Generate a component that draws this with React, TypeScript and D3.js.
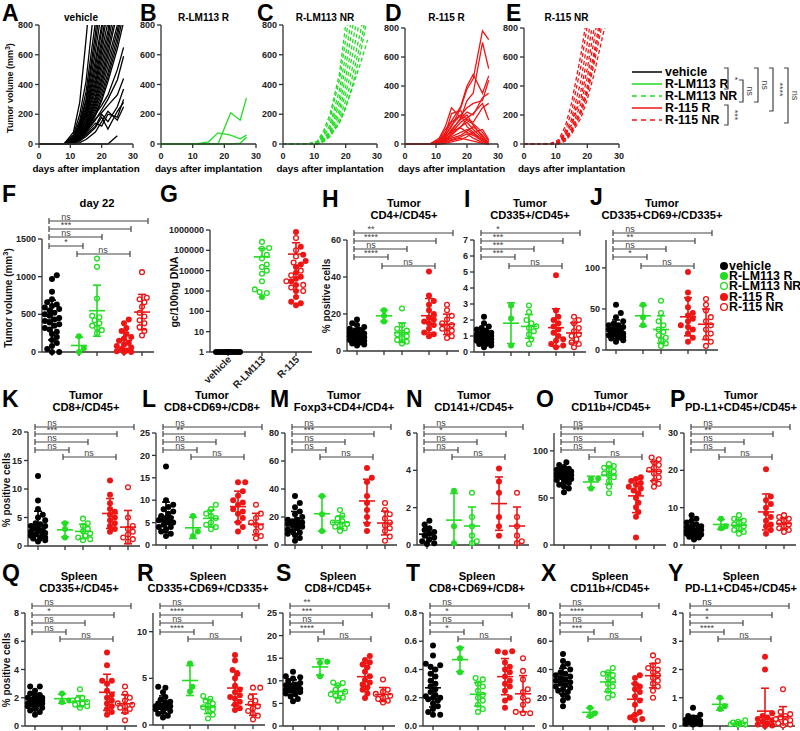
import React from "react";
import * as d3 from "d3";

const FONT = "'Liberation Sans', Arial, Helvetica, sans-serif";
const BLACK = "#000000";
const GREEN = "#22dd22";
const RED = "#ee1515";
const AXIS = "#333333";
const BRK = "#444444";

// ---------------- line chart data (tumor volume, mm3) ----------------
const days = [0, 8, 11, 13, 15, 18, 20, 22, 25, 27];
const vehicleCurves = [
  [0, 0, 80, 280, 700, 1400, 1900, 2400, 3000, 3500],
  [0, 0, 60, 200, 420, 1000, 1500, 2000, 2800, 3300],
  [0, 0, 50, 160, 350, 820, 1300, 1800, 2500, 3000],
  [0, 0, 40, 140, 300, 740, 1150, 1600, 2300, 2800],
  [0, 0, 45, 130, 280, 680, 1000, 1500, 2100, 2600],
  [0, 0, 35, 120, 250, 620, 900, 1300, 1900, 2400],
  [0, 0, 30, 110, 230, 560, 800, 1200, 1800, 2300],
  [0, 0, 40, 100, 210, 520, 760, 1100, 1700, 2200],
  [0, 0, 25, 90, 200, 480, 700, 950, 1500, 2000],
  [0, 0, 30, 95, 190, 440, 660, 900, 1400, 1900],
  [0, 0, 20, 80, 170, 410, 620, 820, 1300, 1800],
  [0, 0, 25, 70, 160, 380, 580, 760, 1200, 1600],
  [0, 0, 15, 60, 140, 350, 540, 720, 1100, 1500],
  [0, 0, 20, 70, 130, 320, 500, 680, 1000, 1400],
  [0, 0, 10, 50, 120, 300, 460, 640, 920, 1300],
  [0, 0, 15, 55, 110, 280, 430, 600, 880, 1200],
  [0, 0, 10, 40, 100, 260, 400, 560, 800, 1100],
  [0, 0, 20, 60, 100, 240, 370, 520, 760, 1000],
  [0, 0, 10, 45, 90, 220, 340, 480, 720, 950],
  [0, 0, 15, 50, 95, 200, 310, 450, 680, 880],
  [0, 0, 5, 35, 80, 190, 290, 420, 640, 820],
  [0, 0, 20, 60, 110, 200, 260, 330, 500, 650],
  [0, 0, 10, 40, 80, 160, 230, 300, 430, 590],
  [0, 0, 15, 45, 90, 170, 210, 260, 330, 440],
  [0, 0, 5, 25, 60, 120, 200, 150, 250, 370],
  [0, 0, 10, 30, 70, 140, 120, 200, 180, 300],
  [0, 0, 5, 20, 50, 110, 180, 100, 220, 280],
  [0, 0, 0, 10, 30, 80, 150, 220, 160, 250],
  [0, 0, 0, 0, 0, 0, 0, 0, 55],
];
const daysB = [0, 11, 15, 18, 22, 25, 27];
const lm113RCurves = [
  [0, 0, 15, 75, 60, 35, 60],
  [0, 0, 0, 0, 210, 160, 310],
  [0, 0, 0, 0, 0, 5, 45],
];
const lm113NRCurves = [
  [0, 0, 20, 90, 200, 470, 800, 1150, 1700, 2100],
  [0, 0, 15, 70, 170, 430, 700, 1000, 1500, 1900],
  [0, 0, 10, 50, 130, 360, 600, 860, 1300, 1700],
  [0, 0, 10, 60, 110, 310, 520, 760, 1150, 1500],
  [0, 0, 5, 40, 90, 270, 450, 660, 1000, 1350],
  [0, 0, 10, 30, 80, 230, 390, 580, 880, 1200],
  [0, 0, 5, 30, 70, 200, 340, 500, 780, 1050],
  [0, 0, 0, 20, 60, 170, 290, 440, 700, 920],
  [0, 0, 5, 25, 55, 150, 250, 370, 560, 700],
  [0, 0, 0, 15, 50, 140, 240, 380, 640, 860],
];
const r115RCurves = [
  [0, 0, 20, 60, 120, 250, 380, 450, 780, 720],
  [0, 0, 10, 40, 90, 180, 300, 350, 700, 520],
  [0, 0, 30, 100, 160, 260, 400, 480, 350, 470],
  [0, 0, 15, 60, 130, 200, 250, 280, 300, 440],
  [0, 0, 40, 120, 250, 180, 220, 200, 320, 350],
  [0, 0, 10, 50, 80, 150, 180, 210, 280, 165],
  [0, 0, 5, 30, 60, 120, 170, 150, 250, 280],
  [0, 0, 20, 80, 150, 200, 120, 80, 30, 0],
  [0, 0, 10, 40, 100, 170, 200, 130, 50, 10],
  [0, 0, 5, 30, 70, 120, 150, 100, 40, 0],
  [0, 0, 15, 50, 90, 110, 80, 60, 20, 0],
  [0, 0, 10, 25, 50, 80, 100, 70, 30, 5],
  [0, 0, 5, 20, 40, 60, 90, 120, 60, 0],
  [0, 0, 0, 10, 30, 50, 70, 40, 10, 0],
  [0, 0, 5, 15, 25, 40, 30, 20, 5, 0],
  [0, 0, 0, 5, 15, 30, 50, 80, 100, 30],
  [0, 0, 20, 70, 210, 230, 160, 140, 80, 20],
];
const r115NRCurves = [
  [0, 0, 30, 120, 280, 620, 900, 1300, 1900, 2400],
  [0, 0, 20, 90, 220, 540, 820, 1150, 1800, 2200],
  [0, 0, 15, 70, 170, 440, 700, 1000, 1600, 2000],
  [0, 0, 10, 60, 140, 370, 600, 880, 1400, 1800],
  [0, 0, 20, 70, 130, 320, 520, 780, 1250, 1600],
  [0, 0, 5, 50, 110, 280, 460, 700, 1100, 1400],
  [0, 0, 10, 40, 90, 240, 400, 620, 980, 1300],
  [0, 0, 5, 30, 80, 210, 350, 540, 860, 1100],
  [0, 0, 0, 20, 70, 180, 310, 470, 760, 920],
  [0, 0, 10, 35, 90, 230, 370, 580, 920, 1250],
];
const lineLegend = ["vehicle", "R-LM113 R", "R-LM113 NR", "R-115 R", "R-115 NR"];
const lineLegendSig = ["*", "ns", "ns", "****", "***", "ns"];

// ---------------- dot plot data ----------------
const groupNames = ["vehicle", "R-LM113 R", "R-LM113 NR", "R-115 R", "R-115 NR"];

const dataF = [
  [1020, 970, 800, 700, 660, 630, 610, 590, 570, 550, 520, 500, 480, 450, 430, 410, 390, 370, 350, 320, 300, 270, 240, 200, 160, 120, 80, 40, 0, 0],
  [0, 50, 210],
  [1240, 1130, 710, 480, 460, 420, 380, 350, 320, 290, 250],
  [430, 380, 320, 280, 240, 200, 180, 150, 120, 100, 80, 60, 40, 20, 0, 0, 10],
  [1060, 720, 700, 660, 600, 520, 470, 420, 380, 330, 280, 220],
];
const sigF = ["ns", "***", "ns", "*", "ns"];

const gVehicle = [1, 1, 1, 1, 1, 1, 1, 1, 1, 1, 1, 1, 1, 1, 1, 1, 1, 1, 1, 1, 1, 1, 1, 1, 1, 1, 1, 1];
const gLM113Open = [260000, 130000, 120000, 60000, 40000, 20000, 15000, 10000, 7000, 3000, 1200, 900, 800];
const gLM113Filled = [500];
const g115Filled = [800000, 150000, 60000, 30000, 20000, 15000, 8000, 5000, 4000, 3000, 2000, 1000, 500, 300, 250, 200];
const g115Open = [400000, 100000, 50000, 25000, 10000, 6000, 3000, 2000, 1500, 1000];
const gCategories = ["vehicle", "R-LM113", "R-115"];
const gTicks = [1, 10, 100, 1000, 10000, 100000, 1000000];

const dataH = [
  [17, 15, 14, 13, 12, 11.5, 11, 10.5, 10, 9.5, 9, 8.5, 8, 7.5, 7, 6.5, 6, 5.5, 5, 4.5, 4, 3.5, 3, 8, 9, 10, 7, 6],
  [22, 19, 16],
  [23, 14, 12, 11, 10, 9, 8, 7, 6, 5, 4],
  [43, 30, 27, 25, 22, 20, 18, 17, 16, 15, 14, 12, 10, 9, 8],
  [25, 22, 19, 17, 15, 14, 13, 12, 11, 10, 8, 7],
];
const sigH = ["**", "****", "ns", "****", "ns"];
const dataI = [
  [2.2, 1.8, 1.6, 1.5, 1.4, 1.3, 1.2, 1.1, 1.0, 1.0, 0.9, 0.9, 0.8, 0.8, 0.7, 0.7, 0.6, 0.5, 0.5, 0.4, 0.3, 1.1, 1.2, 0.6],
  [2.9, 2.1, 0.4],
  [2.9, 2.5, 2.0, 1.8, 1.6, 1.5, 1.3, 1.1, 0.8, 0.5],
  [4.8, 2.6, 2.2, 2.0, 1.8, 1.6, 1.4, 1.2, 1.0, 0.8, 0.7, 0.5, 0.4, 0.3],
  [2.2, 2.0, 1.8, 1.5, 1.3, 1.1, 1.0, 0.8, 0.6, 0.5, 0.3],
];
const sigI = ["*", "***", "***", "***", "ns"];
const dataJ = [
  [55, 45, 40, 35, 32, 30, 28, 26, 25, 24, 22, 20, 19, 18, 16, 15, 14, 12, 10, 20, 25, 30],
  [55, 40, 30],
  [60, 45, 35, 30, 25, 22, 18, 15, 12, 8, 5],
  [95, 70, 62, 52, 45, 42, 38, 35, 30, 28, 25, 20, 15, 10],
  [62, 55, 48, 40, 35, 30, 25, 20, 15, 10, 5],
];
const sigJ = ["ns", "**", "ns", "*", "ns"];

const dataK = [
  [12.3, 8, 6.5, 5.5, 5, 4.5, 4, 3.8, 3.5, 3.2, 3, 2.8, 2.5, 2.3, 2, 1.8, 1.5, 1.3, 1, 0.8, 3.5, 2.5, 2, 1.5],
  [4, 3, 1.5],
  [4.8, 4, 3.5, 3, 2.6, 2.2, 1.8, 1.5, 1.2, 1],
  [11.5, 9, 7.5, 6.5, 6, 5.5, 5, 4.5, 4, 3.5, 3, 2.5],
  [10.3, 5, 3.5, 3, 2.5, 2, 1.5, 1.2, 0.8],
];
const sigK = ["ns", "***", "ns", "ns", "ns"];
const dataL = [
  [17.5, 10, 9, 8.5, 8, 7.5, 7, 6.5, 6, 5.5, 5, 4.5, 4, 3.5, 3, 2.5, 2, 6, 5, 4, 5.5],
  [6.5, 3, 2],
  [9, 8, 7, 6.5, 6, 5, 4.5, 4, 3.5],
  [14, 14, 12, 11, 10, 9.5, 9, 8, 7.5, 7, 6, 5, 4, 3],
  [9, 7, 6, 5, 4.5, 4, 3, 2, 1.5],
];
const sigL = ["ns", "**", "ns", "ns", "ns"];
const dataM = [
  [35, 30, 27, 24, 22, 20, 18, 17, 16, 15, 14, 13, 12, 11, 10, 9, 8, 7, 5, 3, 15, 18],
  [35, 22, 10],
  [25, 21, 19, 17, 16, 15, 14, 13, 12, 10],
  [55, 48, 45, 35, 30, 25, 20, 15, 10],
  [30, 25, 22, 19, 16, 14, 12, 10, 6, 3],
];
const sigM = ["ns", "***", "ns", "ns", "ns"];
const dataN = [
  [1.3, 1.1, 0.9, 0.8, 0.7, 0.6, 0.5, 0.4, 0.3, 0.2, 0.1, 0.05],
  [2.9, 1.0, 0.1],
  [2.8, 1.5, 1.0, 0.5, 0.2, 0.1],
  [4.1, 3.4, 2.8, 1.5, 1.0, 0.5],
  [2.8, 1.5, 1.0, 0.5, 0.2, 0.1],
];
const sigN = ["ns", "*", "ns", "ns", "ns"];
const dataO = [
  [88, 85, 83, 81, 80, 79, 78, 77, 76, 75, 74, 73, 72, 71, 70, 69, 68, 66, 64, 62, 60, 56, 78, 80, 75],
  [71, 70, 60],
  [86, 84, 82, 80, 78, 76, 74, 72, 68, 62, 55],
  [72, 70, 68, 66, 64, 62, 60, 58, 55, 50, 45, 40, 35, 30, 8],
  [93, 91, 88, 85, 82, 80, 78, 76, 72, 68, 65, 62],
];
const sigO = ["ns", "***", "ns", "ns", "ns"];
const dataP = [
  [8, 7, 6.5, 6, 5.5, 5, 4.8, 4.5, 4.2, 4, 3.8, 3.5, 3.2, 3, 2.8, 2.5, 2.2, 2, 1.5, 4, 3.5, 5],
  [7, 5, 4.5],
  [8, 7, 6.5, 6, 5.5, 5, 4.5, 4, 3.5, 3],
  [20.3, 13, 12, 11, 10, 8.5, 7.5, 6.5, 5.5, 5, 4, 3],
  [8, 7.5, 7, 6.5, 6, 5.5, 5, 4.5, 4, 3.5],
];
const sigP = ["ns", "**", "ns", "ns", "ns"];

const dataQ = [
  [2.8, 2.8, 2.5, 2.3, 2.2, 2.1, 2, 1.9, 1.8, 1.8, 1.7, 1.6, 1.6, 1.5, 1.4, 1.3, 1.2, 1.1, 1, 0.8, 1.9, 1.7, 2, 1.5],
  [2.3, 1.8, 1.7],
  [2.6, 2.0, 1.9, 1.8, 1.7, 1.6, 1.5, 1.4, 1.3],
  [5.2, 4.3, 3.2, 3.2, 3.0, 2.5, 2.2, 2.0, 1.8, 1.6, 1.4, 1.2, 1.0, 0.8],
  [2.8, 2.3, 2.0, 1.8, 1.6, 1.5, 1.4, 1.3, 1.2, 1.0, 0.4],
];
const sigQ = ["ns", "*", "ns", "ns", "ns"];
const dataR = [
  [4.1, 4.0, 3.5, 3.0, 2.7, 2.5, 2.3, 2.2, 2.1, 2.0, 1.9, 1.8, 1.7, 1.5, 1.4, 1.2, 1.0, 0.8, 2.4, 2.0],
  [6.6, 4.1, 3.6],
  [3.1, 2.8, 2.6, 2.3, 2.1, 1.9, 1.7, 1.5, 1.1, 0.7],
  [7.5, 6.9, 5.9, 5.5, 5.0, 4.2, 3.8, 3.5, 3.2, 3.0, 2.8, 2.5, 2.2, 1.8, 1.6],
  [4.0, 4.0, 3.0, 2.6, 2.3, 2.0, 1.8, 1.5, 1.2, 1.0, 0.6],
];
const sigR = ["ns", "****", "ns", "****", "ns"];
const dataS = [
  [12, 11, 10.8, 10.5, 10, 9.5, 9.2, 9, 8.7, 8.5, 8.2, 8, 7.8, 7.5, 7.2, 7, 6.5, 6, 5.5, 8, 9, 8.5],
  [14.2, 14.0, 11.0],
  [9.6, 9.5, 9.0, 8.0, 7.6, 7.2, 7.0, 6.7, 6.3, 5.6],
  [15.5, 14.6, 14.1, 13.6, 13.0, 12.0, 11.0, 10.2, 9.6, 9.2, 8.6, 8.0, 7.2, 6.2],
  [10.3, 8.0, 7.6, 7.1, 6.7, 6.3, 6.0, 5.6, 5.2],
];
const sigS = ["**", "***", "ns", "****", "ns"];
const dataT = [
  [0.57, 0.5, 0.44, 0.43, 0.42, 0.4, 0.37, 0.35, 0.32, 0.3, 0.28, 0.26, 0.24, 0.22, 0.21, 0.2, 0.2, 0.19, 0.18, 0.16, 0.14, 0.12, 0.1, 0.08, 0.08],
  [0.55, 0.48, 0.38],
  [0.34, 0.33, 0.3, 0.28, 0.25, 0.22, 0.2, 0.18, 0.15, 0.12, 0.1],
  [0.53, 0.53, 0.52, 0.45, 0.42, 0.4, 0.38, 0.35, 0.32, 0.3, 0.28, 0.25, 0.2, 0.18, 0.13],
  [0.48, 0.39, 0.33, 0.26, 0.24, 0.2, 0.18, 0.15, 0.1, 0.09, 0.09],
];
const sigT = ["ns", "*", "ns", "*", "ns"];
const dataX = [
  [51, 46, 44, 42, 40, 38, 37, 36, 35, 34, 33, 32, 31, 30, 29, 28, 27, 26, 25, 24, 22, 20, 18, 14],
  [13, 9, 7],
  [41, 38, 37, 36, 34, 32, 30, 28, 25, 22, 20],
  [36, 34, 30, 28, 26, 24, 21, 18, 15, 10, 8, 6, 5, 4],
  [50, 46, 43, 41, 40, 38, 36, 34, 32, 30, 28, 25, 20],
];
const sigX = ["ns", "****", "ns", "***", "ns"];
const dataY = [
  [0.65, 0.4, 0.35, 0.3, 0.28, 0.25, 0.22, 0.2, 0.18, 0.16, 0.15, 0.14, 0.12, 0.1, 0.08, 0.06, 0.05],
  [1.0, 0.7, 0.6],
  [0.2, 0.15, 0.12, 0.1, 0.09, 0.08, 0.06, 0.05, 0.04],
  [2.45, 2.0, 0.45, 0.35, 0.3, 0.25, 0.2, 0.15, 0.1, 0.05, 0.02, 0],
  [1.3, 0.5, 0.42, 0.35, 0.3, 0.25, 0.2, 0.15, 0.1, 0.05, 0.02],
];
const sigY = ["ns", "*", "*", "****", "ns"];

// ---------------- layout helpers ----------------
const COLORS = [BLACK, GREEN, GREEN, RED, RED];
const FILLED = [true, true, false, true, false];
const OFFS = [10, 37, 55, 82, 100];
const BR_END = [106, 89, 60, 41];

type Pt = { x: number; y: number; filled: boolean; color: string };

function swarm(items: { v: number; filled: boolean; color: string }[], yS: (v: number) => number, cx: number, r: number, maxOff: number): Pt[] {
  const pts = items.map((d) => ({ ...d, y: yS(d.v) })).sort((a, b) => b.y - a.y);
  const placed: Pt[] = [];
  const step = r * 0.8;
  const offs = [0];
  for (let k = 1; k * step <= maxOff; k++) offs.push(k * step, -k * step);
  for (const p of pts) {
    let best = 0;
    let bestD = -1;
    for (const o of offs) {
      let minD = Infinity;
      for (const q of placed) {
        const d = Math.hypot(cx + o - q.x, p.y - q.y);
        if (d < minD) minD = d;
      }
      if (minD >= 2 * r * 0.85) {
        best = o;
        bestD = Infinity;
        break;
      }
      if (minD > bestD) {
        bestD = minD;
        best = o;
      }
    }
    placed.push({ x: cx + best, y: p.y, filled: p.filled, color: p.color });
  }
  return placed;
}

function Marker({ p, r }: { p: Pt; r: number }) {
  return p.filled ? (
    <circle cx={p.x} cy={p.y} r={r} fill={p.color} />
  ) : (
    <circle cx={p.x} cy={p.y} r={r - 0.6} fill="#fff" stroke={p.color} strokeWidth={1.3} />
  );
}

function MeanSD({ x, vals, y, color, clipY, log }: { x: number; vals: number[]; y: (v: number) => number; color: string; clipY: number; log?: boolean }) {
  const m = d3.mean(vals) as number;
  const sd = (d3.deviation(vals) as number) || 0;
  const yTopV = y(m + sd);
  const lo = m - sd;
  const yBot = log ? y(m) : lo <= 0 ? clipY : y(lo);
  return (
    <g stroke={color} strokeWidth={1.6} fill="none">
      <line x1={x - 8} x2={x + 8} y1={y(m)} y2={y(m)} />
      <line x1={x} x2={x} y1={yTopV} y2={yBot} />
      <line x1={x - 4} x2={x + 4} y1={yTopV} y2={yTopV} />
      {!log && lo > 0 && <line x1={x - 4} x2={x + 4} y1={yBot} y2={yBot} />}
    </g>
  );
}

function Bracket({ x1, x2, y, label, lx }: { x1: number; x2: number; y: number; label: string; lx: number }) {
  return (
    <g>
      <g stroke={BRK} strokeWidth={1.2}>
        <line x1={x1} x2={x2} y1={y} y2={y} />
        <line x1={x1} x2={x1} y1={y - 3} y2={y + 3} />
        <line x1={x2} x2={x2} y1={y - 3} y2={y + 3} />
      </g>
      <text x={lx} y={y - 1.5} fontSize={9} fill={BRK} textAnchor="middle">
        {label}
      </text>
    </g>
  );
}

function Letter({ x, y, t }: { x: number; y: number; t: string }) {
  return (
    <text x={x} y={y} fontSize={23} fontWeight="bold" fill="#000">
      {t}
    </text>
  );
}

function YTitle({ x, y, size, children }: { x: number; y: number; size?: number; children: React.ReactNode }) {
  return (
    <text transform={`translate(${x},${y}) rotate(-90)`} textAnchor="middle" fontSize={size || 10} fontWeight="bold" fill="#111">
      {children}
    </text>
  );
}

type DPProps = {
  letter: string; lx: number; ly: number;
  t1: string; t2?: string; tx: number; ty: number;
  ax: number; y0: number; yTop: number; max: number; ticks: number[]; fmt?: (n: number) => string;
  data: number[][]; sig: string[]; by: number[];
};

function DotPlot(p: DPProps) {
  const y = d3.scaleLinear().domain([0, p.max]).range([p.y0, p.yTop]);
  const xs = OFFS.map((o) => p.ax + o);
  const fmt = p.fmt || ((n: number) => String(n));
  const bStart = p.ax + 7;
  return (
    <g>
      <Letter x={p.lx} y={p.ly} t={p.letter} />
      <text x={p.tx} y={p.ty} textAnchor="middle" fontSize={11.2} fontWeight="bold">{p.t1}</text>
      {p.t2 && <text x={p.tx} y={p.ty + 12} textAnchor="middle" fontSize={11.2} fontWeight="bold">{p.t2}</text>}
      <g stroke={AXIS} strokeWidth={1.3}>
        <line x1={p.ax} x2={p.ax} y1={p.y0} y2={p.yTop} />
        <line x1={p.ax} x2={p.ax + 112} y1={p.y0} y2={p.y0} />
        {p.ticks.map((t) => (
          <line key={t} x1={p.ax - 4} x2={p.ax} y1={y(t)} y2={y(t)} />
        ))}
        {xs.map((x, i) => (
          <line key={i} x1={x} x2={x} y1={p.y0} y2={p.y0 + 4} />
        ))}
      </g>
      {p.ticks.map((t) => (
        <text key={t} x={p.ax - 6} y={y(t)} dy="0.35em" textAnchor="end" fontSize={9} fontWeight="bold" fill="#222">
          {fmt(t)}
        </text>
      ))}
      {p.data.map((vals, gi) => {
        const pts = swarm(vals.map((v) => ({ v, filled: FILLED[gi], color: COLORS[gi] })), y, xs[gi], 3, 8);
        return (
          <g key={gi}>
            {pts.map((pt, k) => (
              <Marker key={k} p={pt} r={3} />
            ))}
            {gi > 0 && <MeanSD x={xs[gi]} vals={vals} y={y} color={COLORS[gi]} clipY={p.y0} />}
          </g>
        );
      })}
      <MeanSD x={xs[0]} vals={p.data[0]} y={y} color={BLACK} clipY={p.y0} />
      {BR_END.map((e, i) => (
        <Bracket key={i} x1={bStart} x2={p.ax + e} y={p.by[i]} label={p.sig[i]} lx={bStart + 17} />
      ))}
      <Bracket x1={p.ax + 35} x2={p.ax + 88} y={p.by[4]} label={p.sig[4]} lx={p.ax + 61} />
    </g>
  );
}

type LPProps = {
  letter: string; lx: number; x0: number; x1: number; yTop: number;
  curves: number[][]; ds: number[]; color: string; dashed?: boolean;
  title: string; ytitle?: boolean; id: string;
};

function LinePanel(p: LPProps) {
  const y0 = 144;
  const x = d3.scaleLinear().domain([0, 30]).range([p.x0, p.x1]);
  const y = d3.scaleLinear().domain([0, 800]).range([y0, p.yTop]);
  const yt = [0, 200, 400, 600, 800];
  const xt = [0, 10, 20, 30];
  return (
    <g>
      <defs>
        <clipPath id={p.id}>
          <rect x={p.x0} y={p.yTop} width={p.x1 - p.x0 + 6} height={y0 - p.yTop + 2} />
        </clipPath>
      </defs>
      <Letter x={p.lx} y={21} t={p.letter} />
      <text x={(p.x0 + p.x1) / 2 - 5} y={21} textAnchor="middle" fontSize={10} fontWeight="bold">{p.title}</text>
      <g clipPath={`url(#${p.id})`} fill="none" stroke={p.color} strokeWidth={1.3} strokeDasharray={p.dashed ? "4,2.5" : undefined}>
        {p.curves.map((c, i) => {
          const line = d3.line<number>().x((_, k) => x(p.ds[k])).y((v) => y(v));
          return <path key={i} d={line(c) || ""} />;
        })}
      </g>
      <g stroke={AXIS} strokeWidth={1.3}>
        <line x1={p.x0} x2={p.x0} y1={y0} y2={p.yTop} />
        <line x1={p.x0} x2={p.x1} y1={y0} y2={y0} />
        {yt.map((t) => (
          <line key={t} x1={p.x0 - 4} x2={p.x0} y1={y(t)} y2={y(t)} />
        ))}
        {xt.map((t) => (
          <line key={t} x1={x(t)} x2={x(t)} y1={y0} y2={y0 + 4} />
        ))}
      </g>
      {yt.map((t) => (
        <text key={t} x={p.x0 - 6} y={y(t)} dy="0.35em" textAnchor="end" fontSize={9} fontWeight="bold" fill="#222">{t}</text>
      ))}
      {xt.map((t) => (
        <text key={t} x={x(t)} y={158.5} textAnchor="middle" fontSize={9} fontWeight="bold" fill="#222">{t}</text>
      ))}
      <text x={(p.x0 + p.x1) / 2} y={172} textAnchor="middle" fontSize={9.8} fontWeight="bold">days after implantation</text>
      {p.ytitle && (
        <YTitle x={13} y={88} size={9}>
          Tumor volume (mm<tspan baselineShift="super" fontSize={7}>3</tspan>)
        </YTitle>
      )}
    </g>
  );
}

function LineLegend() {
  const ys = [72, 84, 96, 108, 120];
  const cols = [BLACK, GREEN, GREEN, RED, RED];
  const dash = [false, false, true, false, true];
  const br = [
    { x: 728, y1: 68, y2: 89 },
    { x: 743, y1: 80, y2: 102 },
    { x: 758, y1: 68, y2: 102 },
    { x: 773, y1: 68, y2: 111 },
    { x: 728, y1: 105, y2: 125 },
    { x: 788, y1: 68, y2: 123 },
  ];
  return (
    <g>
      {lineLegend.map((n, i) => (
        <g key={n}>
          <line x1={632} x2={662} y1={ys[i]} y2={ys[i]} stroke={cols[i]} strokeWidth={1.5} strokeDasharray={dash[i] ? "5,4" : undefined} />
          <text x={665} y={ys[i]} dy="0.36em" fontSize={12.4} fontWeight="bold">{n}</text>
        </g>
      ))}
      {br.map((b, i) => (
        <g key={i}>
          <path d={`M${b.x - 4},${b.y1} H${b.x} V${b.y2} H${b.x - 4}`} fill="none" stroke={BRK} strokeWidth={1.2} />
          <text transform={`translate(${b.x + 4},${(b.y1 + b.y2) / 2}) rotate(90)`} textAnchor="middle" fontSize={9} fill={BRK}>
            {lineLegendSig[i]}
          </text>
        </g>
      ))}
    </g>
  );
}

function DotLegend() {
  const ys = [266, 276, 286, 297, 307];
  return (
    <g>
      {groupNames.map((n, i) => (
        <g key={n}>
          {FILLED[i] ? (
            <circle cx={724} cy={ys[i]} r={4} fill={COLORS[i]} />
          ) : (
            <circle cx={724} cy={ys[i]} r={3.4} fill="#fff" stroke={COLORS[i]} strokeWidth={1.3} />
          )}
          <text x={729} y={ys[i]} dy="0.36em" fontSize={12.4} fontWeight="bold">{n}</text>
        </g>
      ))}
    </g>
  );
}

function PanelG() {
  const ax = 210;
  const y0 = 352;
  const y = d3.scaleLog().domain([1, 1000000]).range([y0, 230]);
  const xs = [228, 262, 296];
  const vehPts = swarm(gVehicle.map((v) => ({ v, filled: true, color: BLACK })), y, xs[0], 3, 14);
  const lmPts = swarm(
    [...gLM113Open.map((v) => ({ v, filled: false, color: GREEN })), ...gLM113Filled.map((v) => ({ v, filled: true, color: GREEN }))],
    y, xs[1], 3, 10
  );
  const r115Pts = swarm(
    [...g115Filled.map((v) => ({ v, filled: true, color: RED })), ...g115Open.map((v) => ({ v, filled: false, color: RED }))],
    y, xs[2], 3, 11
  );
  return (
    <g>
      <Letter x={160} y={202} t="G" />
      <g stroke={AXIS} strokeWidth={1.3}>
        <line x1={ax} x2={ax} y1={y0} y2={230} />
        <line x1={ax} x2={312} y1={y0} y2={y0} />
        {gTicks.map((t) => (
          <line key={t} x1={ax - 4} x2={ax} y1={y(t)} y2={y(t)} />
        ))}
        {xs.map((x) => (
          <line key={x} x1={x} x2={x} y1={y0} y2={y0 + 4} />
        ))}
      </g>
      {gTicks.map((t) => (
        <text key={t} x={ax - 6} y={y(t)} dy="0.35em" textAnchor="end" fontSize={9} fontWeight="bold" fill="#222">{t}</text>
      ))}
      {gCategories.map((c, i) => (
        <text key={c} transform={`translate(${xs[i] + 4},${y0 + 8}) rotate(-45)`} textAnchor="end" fontSize={10} fontWeight="bold" fill="#222">{c}</text>
      ))}
      {vehPts.map((p, k) => <Marker key={`v${k}`} p={p} r={3} />)}
      {lmPts.map((p, k) => <Marker key={`l${k}`} p={p} r={3} />)}
      {r115Pts.map((p, k) => <Marker key={`r${k}`} p={p} r={3} />)}
      <MeanSD x={xs[1]} vals={[...gLM113Open, ...gLM113Filled]} y={y} color={GREEN} clipY={y0} log />
      <MeanSD x={xs[2]} vals={[...g115Filled, ...g115Open]} y={y} color={RED} clipY={y0} log />
      <YTitle x={178} y={292} size={10.5}>gc/100ng DNA</YTitle>
    </g>
  );
}

const BY2F = [221, 229, 237, 246, 254];
const BY2 = [233, 241, 249, 257, 266];
const BY3 = [427, 434, 442, 450, 457];
const BY4 = [606, 615, 623, 632, 639];

export default function App() {
  return (
    <svg width={800} height={731} viewBox="0 0 800 731" style={{ position: "absolute", left: 0, top: 0, background: "#fff" }} fontFamily={FONT}>
      <rect x={0} y={0} width={800} height={731} fill="#fff" />
      <LinePanel id="cA" letter="A" lx={2} x0={39} x1={133} yTop={25} curves={vehicleCurves} ds={days} color={BLACK} title="vehicle" ytitle />
      <LinePanel id="cB" letter="B" lx={140} x0={161} x1={256} yTop={25} curves={lm113RCurves} ds={daysB} color={GREEN} title="R-LM113 R" />
      <LinePanel id="cC" letter="C" lx={257} x0={283} x1={377} yTop={25} curves={lm113NRCurves} ds={days} color={GREEN} dashed title="R-LM113 NR" />
      <LinePanel id="cD" letter="D" lx={385} x0={405} x1={498} yTop={28} curves={r115RCurves} ds={days} color={RED} title="R-115 R" />
      <LinePanel id="cE" letter="E" lx={506} x0={524} x1={619} yTop={28} curves={r115NRCurves} ds={days} color={RED} dashed title="R-115 NR" />
      <LineLegend />

      <DotPlot letter="F" lx={2} ly={202} t1="day 22" tx={97} ty={207} ax={42} y0={352} yTop={239} max={1500} ticks={[0, 500, 1000, 1500]} data={dataF} sig={sigF} by={BY2F} />
      <YTitle x={12} y={298} size={10}>
        Tumor volume (mm<tspan baselineShift="super" fontSize={7.5}>3</tspan>)
      </YTitle>
      <PanelG />
      <DotPlot letter="H" lx={322} ly={207} t1="Tumor" t2="CD4+/CD45+" tx={404} ty={207} ax={347} y0={351} yTop={240} max={60} ticks={[0, 20, 40, 60]} data={dataH} sig={sigH} by={BY2} />
      <YTitle x={330} y={296}>% positive cells</YTitle>
      <DotPlot letter="I" lx={464} ly={207} t1="Tumor" t2="CD335+/CD45+" tx={530} ty={207} ax={474} y0={352} yTop={240} max={7} ticks={[0, 1, 2, 3, 4, 5, 6, 7]} data={dataI} sig={sigI} by={BY2} />
      <DotPlot letter="J" lx={590} ly={205} t1="Tumor" t2="CD335+CD69+/CD335+" tx={662} ty={207} ax={606} y0={350} yTop={240} max={134} ticks={[0, 50, 100]} data={dataJ} sig={sigJ} by={BY2} />
      <DotLegend />

      <DotPlot letter="K" lx={2} ly={407} t1="Tumor" t2="CD8+/CD45+" tx={86} ty={399} ax={28} y0={546} yTop={432} max={20} ticks={[0, 5, 10, 15, 20]} data={dataK} sig={sigK} by={BY3} />
      <YTitle x={10} y={490}>% positive cells</YTitle>
      <DotPlot letter="L" lx={142} ly={407} t1="Tumor" t2="CD8+CD69+/CD8+" tx={212} ty={399} ax={156} y0={545} yTop={433} max={25} ticks={[0, 5, 10, 15, 20, 25]} data={dataL} sig={sigL} by={BY3} />
      <DotPlot letter="M" lx={270} ly={407} t1="Tumor" t2="Foxp3+CD4+/CD4+" tx={344} ty={399} ax={285} y0={545} yTop={433} max={80} ticks={[0, 20, 40, 60, 80]} data={dataM} sig={sigM} by={BY3} />
      <DotPlot letter="N" lx={406} ly={407} t1="Tumor" t2="CD141+/CD45+" tx={474} ty={399} ax={417} y0={545} yTop={433} max={6} ticks={[0, 2, 4, 6]} data={dataN} sig={sigN} by={BY3} />
      <DotPlot letter="O" lx={536} ly={407} t1="Tumor" t2="CD11b+/CD45+" tx={611} ty={399} ax={554} y0={545} yTop={433} max={119} ticks={[0, 50, 100]} data={dataO} sig={sigO} by={BY3} />
      <DotPlot letter="P" lx={670} ly={407} t1="Tumor" t2="PD-L1+CD45+/CD45+" tx={741} ty={399} ax={684} y0={545} yTop={433} max={30} ticks={[0, 10, 20, 30]} data={dataP} sig={sigP} by={BY3} />

      <DotPlot letter="Q" lx={2} ly={581} t1="Spleen" t2="CD335+/CD45+" tx={79} ty={580} ax={25} y0={726} yTop={613} max={8} ticks={[0, 2, 4, 6, 8]} data={dataQ} sig={sigQ} by={BY4} />
      <YTitle x={10} y={670}>% positive cells</YTitle>
      <DotPlot letter="R" lx={137} ly={581} t1="Spleen" t2="CD335+CD69+/CD335+" tx={208} ty={580} ax={153} y0={725} yTop={613} max={12} ticks={[0, 5, 10]} data={dataR} sig={sigR} by={BY4} />
      <DotPlot letter="S" lx={276} ly={581} t1="Spleen" t2="CD8+/CD45+" tx={338} ty={580} ax={283} y0={726} yTop={613} max={25} ticks={[0, 5, 10, 15, 20, 25]} data={dataS} sig={sigS} by={BY4} />
      <DotPlot letter="T" lx={406} ly={581} t1="Spleen" t2="CD8+CD69+/CD8+" tx={477} ty={580} ax={423} y0={726} yTop={613} max={0.8} ticks={[0, 0.2, 0.4, 0.6, 0.8]} fmt={d3.format(".1f")} data={dataT} sig={sigT} by={BY4} />
      <DotPlot letter="X" lx={541} ly={581} t1="Spleen" t2="CD11b+/CD45+" tx={610} ty={580} ax={553} y0={726} yTop={613} max={80} ticks={[0, 20, 40, 60, 80]} data={dataX} sig={sigX} by={BY4} />
      <DotPlot letter="Y" lx={668} ly={581} t1="Spleen" t2="PD-L1+CD45+/CD45+" tx={741} ty={580} ax={683} y0={726} yTop={613} max={4} ticks={[0, 1, 2, 3, 4]} data={dataY} sig={sigY} by={BY4} />
    </svg>
  );
}
